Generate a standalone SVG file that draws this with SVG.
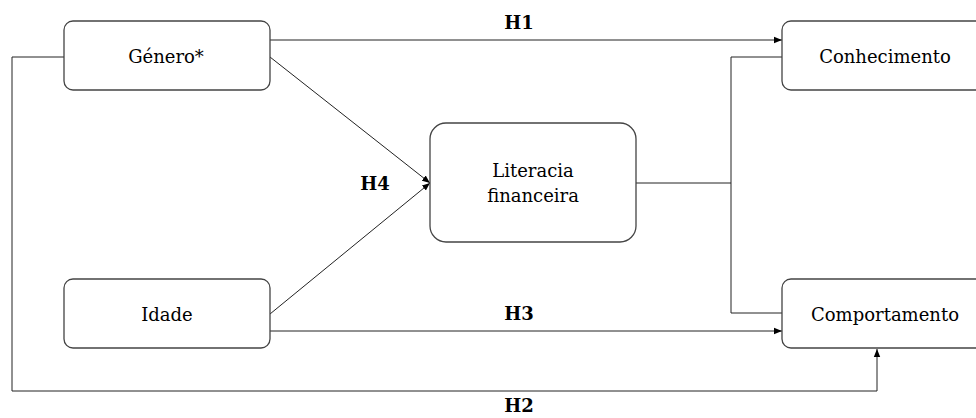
<svg xmlns="http://www.w3.org/2000/svg" width="976" height="418" viewBox="0 0 976 418">
<style>
.box{fill:#fff;stroke:#444;stroke-width:1.3}
.t{font-family:'DejaVu Serif',serif;font-size:18px;fill:#000;text-anchor:middle}
.h{font-family:'DejaVu Serif',serif;font-size:18px;font-weight:bold;fill:#000;text-anchor:middle}
.c{fill:none;stroke:#222;stroke-width:1}
</style>
<defs>
<marker id="a" viewBox="0 0 10 10" refX="10" refY="5" markerWidth="8" markerHeight="8" markerUnits="userSpaceOnUse" orient="auto">
<path d="M0,1 L10,5 L0,9 z" fill="#000"/>
</marker>
</defs>
<rect width="976" height="418" fill="#fff"/>
<g id="connectors">
<path class="c" d="M270,40 H782" marker-end="url(#a)"/>
<path class="c" d="M64,57 H12 V391 H877 V349" marker-end="url(#a)"/>
<path class="c" d="M270,57 L430,183" marker-end="url(#a)"/>
<path class="c" d="M270,314 L430,183" marker-end="url(#a)"/>
<path class="c" d="M270,331 H782" marker-end="url(#a)"/>
<path class="c" d="M636,183 H731"/>
<path class="c" d="M782,57 H731 V313 H782"/>
<text class="h" x="519" y="29">H1</text>
<text class="h" x="375" y="190">H4</text>
<text class="h" x="519" y="320">H3</text>
<text class="h" x="519" y="412">H2</text>
</g>
<g id="genero">
<rect class="box" x="64" y="21" width="206" height="69" rx="9"/>
<text class="t" x="166" y="63">Género*</text>
</g>
<g id="idade">
<rect class="box" x="64" y="279" width="206" height="69" rx="9"/>
<text class="t" x="167" y="321">Idade</text>
</g>
<g id="literacia">
<rect class="box" x="430" y="123" width="206" height="119" rx="16"/>
<text class="t" x="533" y="177">Literacia</text>
<text class="t" x="533" y="202">financeira</text>
</g>
<g id="conhecimento">
<rect class="box" x="782" y="21" width="206" height="69" rx="9"/>
<text class="t" x="885" y="63">Conhecimento</text>
</g>
<g id="comportamento">
<rect class="box" x="782" y="279" width="206" height="69" rx="9"/>
<text class="t" x="885" y="321">Comportamento</text>
</g>
</svg>
